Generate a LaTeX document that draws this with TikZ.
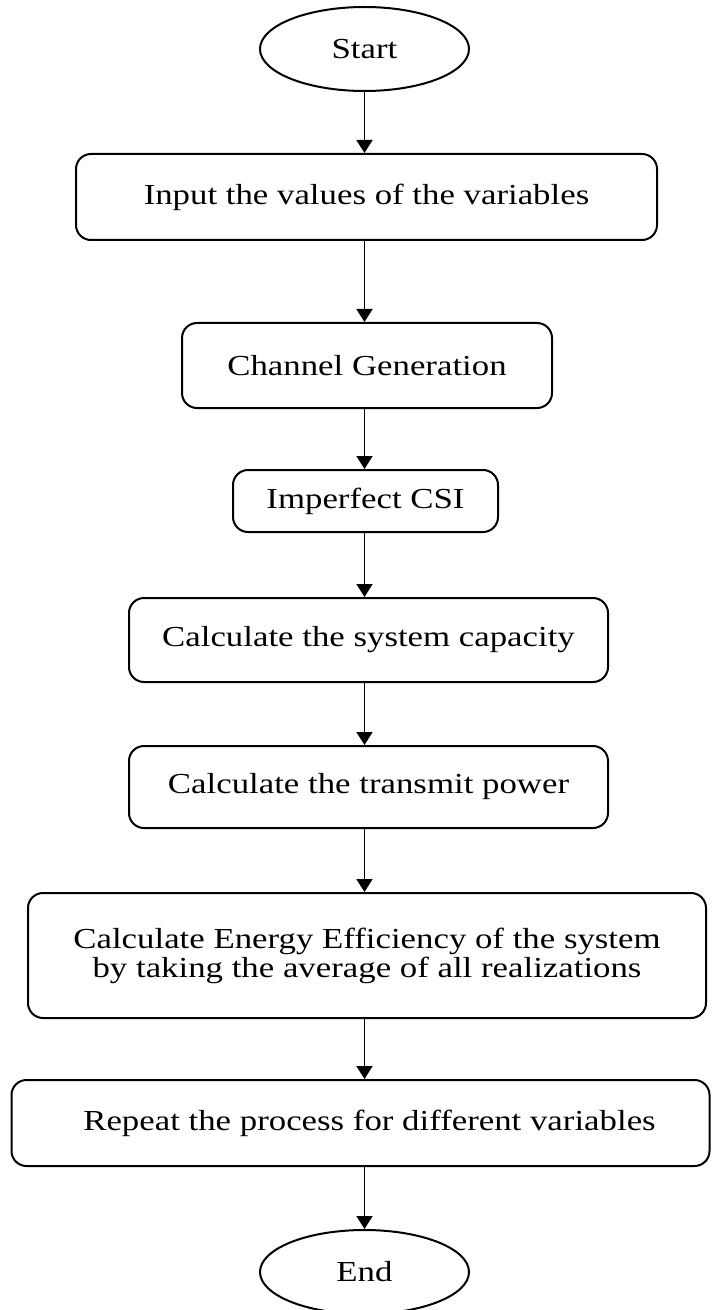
\documentclass[tikz,border=0pt]{standalone}
\usepackage{fontspec}
\setmainfont[FakeStretch=1.2]{Liberation Serif}
\usetikzlibrary{shapes.geometric,arrows.meta}
\begin{document}
\begin{tikzpicture}[x=0.5pt,y=-0.5pt,
  every node/.style={font=\fontsize{14.5}{14.5}\selectfont, align=center, inner sep=0pt},
  terminal/.style={draw, line width=1pt, ellipse, minimum width=104.5pt, minimum height=42pt},
  stepbox/.style={draw, line width=1pt, rounded corners=7.5pt},
  flow/.style={line width=0.9pt, -{Triangle[width=8pt,length=6.5pt]}}]
\useasboundingbox (0,0) rectangle (712,1310);
\node[terminal] (start) at (364.5,49) {Start};
\node[stepbox, minimum width=290.5pt, minimum height=43pt] (n1) at (366.5,197) {Input the values of the variables};
\node[stepbox, minimum width=185pt, minimum height=42.5pt] (n2) at (367,365.5) {Channel Generation};
\node[stepbox, minimum width=132.5pt, minimum height=31pt] (n3) at (365.5,501) {Imperfect CSI};
\node[stepbox, minimum width=239.5pt, minimum height=42pt] (n4) at (368.5,640) {Calculate the system capacity};
\node[stepbox, minimum width=239.5pt, minimum height=41pt] (n5) at (368.5,787) {Calculate the transmit power};
\node[stepbox, minimum width=339pt, minimum height=62.5pt] (n6) at (367,955.5) {Calculate Energy Efficiency of the system\\by taking the average of all realizations};
\node[stepbox, minimum width=349pt, minimum height=43pt] (n7) at (360.5,1123) {\hspace*{9pt}Repeat the process for different variables};
\node[terminal] (end) at (364.5,1272) {End};
\draw[flow] (start.south) -- (start.south |- n1.north);
\draw[flow] (start.south |- n1.south) -- (start.south |- n2.north);
\draw[flow] (start.south |- n2.south) -- (start.south |- n3.north);
\draw[flow] (start.south |- n3.south) -- (start.south |- n4.north);
\draw[flow] (start.south |- n4.south) -- (start.south |- n5.north);
\draw[flow] (start.south |- n5.south) -- (start.south |- n6.north);
\draw[flow] (start.south |- n6.south) -- (start.south |- n7.north);
\draw[flow] (start.south |- n7.south) -- (end.north);
\end{tikzpicture}
\end{document}
